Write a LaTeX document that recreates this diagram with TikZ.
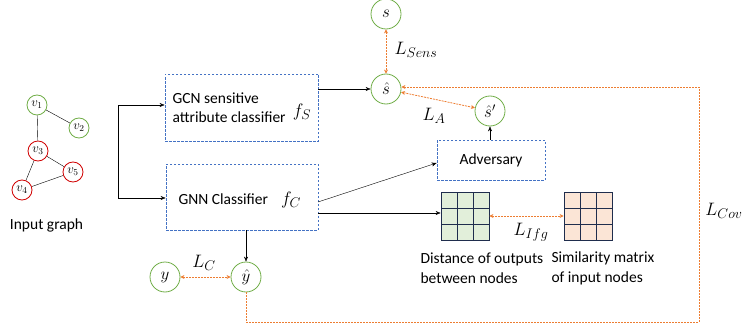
\documentclass[tikz,border=0pt]{standalone}
\usepackage{fix-cm}
\usepackage{fontspec}
\setmainfont{Carlito}
\DeclareMathSizes{18}{18}{14}{10}
\usetikzlibrary{arrows.meta}
\definecolor{cgreen}{HTML}{70AD47}
\definecolor{cred}{HTML}{D00000}
\definecolor{cblue}{HTML}{4472C4}
\definecolor{corange}{HTML}{ED7D31}
\definecolor{gfill}{HTML}{E2EFDA}
\definecolor{pfill}{HTML}{FBE5D6}
\definecolor{navy}{HTML}{1F2D4D}
\tikzset{
  gnode/.style={circle,draw=cgreen,thick,minimum size=20pt,inner sep=0pt,font=\fontsize{13}{14}\selectfont},
  rnode/.style={circle,draw=cred,thick,minimum size=20pt,inner sep=0pt,font=\fontsize{13}{14}\selectfont},
  onode/.style={circle,draw=cgreen,thick,minimum size=30pt,inner sep=0pt,font=\fontsize{17}{18}\selectfont},
  dbox/.style={draw=cblue,dash pattern=on 2.5pt off 1.5pt,thick,inner sep=0pt},
  blk/.style={-{Stealth[length=5pt,width=4pt]},black,thin},
  oline/.style={corange,dash pattern=on 2pt off 1pt,thick},
  oarr/.style={oline,{Stealth[length=4pt,width=4pt]}-{Stealth[length=4pt,width=4pt]}},
  mat/.style={draw=navy,thick,minimum size=48pt,inner sep=0pt},
  lbl/.style={font=\fontsize{18}{20}\selectfont},
  txt/.style={font=\fontsize{15.5}{19}\selectfont},
  captxt/.style={align=left,anchor=west,font=\fontsize{15.5}{20}\selectfont}
}
\begin{document}
\begin{tikzpicture}[x=1pt,y=-1pt]
\useasboundingbox (0,0) rectangle (742,329);
% input graph
\node[gnode] (v1) at (37,105) {$v_1$};
\node[gnode] (v2) at (79,128) {$v_2$};
\node[rnode] (v3) at (38,151) {$v_3$};
\node[rnode] (v4) at (22,190) {$v_4$};
\node[rnode] (v5) at (73,172) {$v_5$};
\draw (v1) -- (v2);
\draw (v1) -- (v3);
\draw (v3) -- (v5);
\draw (v3) -- (v4);
\draw (v4) -- (v5);
\node[txt] (ig) at (46.5,225) {Input graph};
% boxes
\node[dbox,minimum width=153pt,minimum height=67pt] (gcn) at (241.5,107.5) {};
\node[anchor=west,align=left,txt] (gcnt) at (169,108) {GCN sensitive\\attribute classifier};
\node[lbl] (fs) at (302,112) {$f_S$};
\node[dbox,minimum width=152pt,minimum height=66pt] (gnn) at (242,197) {};
\node[anchor=west,txt] (gnnt) at (175,199) {GNN Classifier};
\node[lbl] (fc) at (291,200) {$f_C$};
\coordinate (br1) at (118,105);
\coordinate (br2) at (118,198);
\draw[blk] (br1) -- (gcn.west |- br1);
\draw[blk] (br2) -- (gnn.west |- br2);
\draw (br1) -- (br2);
% outputs
\node[onode] (s) at (386,14) {$s$};
\node[onode] (sh) at (386,89) {$\hat{s}$};
\node[onode] (shp) at (490,111) {$\hat{s}'$};
\node[dbox,minimum width=108pt,minimum height=40pt,txt] (adv) at (491,160) {Adversary};
\draw[blk] (gcn.east |- sh) -- (sh);
\draw[blk] (adv.north -| shp) -- (shp);
\draw[oarr] (s) -- (sh);
\draw[oarr] (sh) -- (shp);
\node[lbl] (lsens) at (416,50) {$L_{Sens}$};
\node[lbl] (la) at (434,116) {$L_A$};
% matrices
\node[mat,fill=gfill] (ma) at (465,216) {};
\foreach \k in {457,473} {\draw[navy,thick] (\k,192) -- (\k,240);}
\foreach \k in {208,224} {\draw[navy,thick] (441,\k) -- (489,\k);}
\node[mat,fill=pfill] (mb) at (588,216) {};
\foreach \k in {580,596} {\draw[navy,thick] (\k,192) -- (\k,240);}
\foreach \k in {208,224} {\draw[navy,thick] (564,\k) -- (612,\k);}
\draw[oarr] (ma) -- (mb);
\node[lbl] (lifg) at (531,232) {$L_{Ifg}$};
\node[captxt] (capa) at (417,268) {Distance of outputs\\between nodes};
\node[captxt] (capb) at (548,268) {Similarity matrix\\of input nodes};
\coordinate (gnnA) at (318,202);
\coordinate (gnnB) at (318,213);
\draw[blk] (gnnA) -- (adv.west |- 0,163);
\draw[blk] (gnnB) -- (ma.west |- gnnB);
% y nodes
\node[onode] (y) at (165,277) {$y$};
\node[onode] (yh) at (246,277) {$\hat{y}$};
\draw[blk] (gnn.south -| yh) -- (yh);
\draw[oarr] (y) -- (yh);
\node[lbl] (lc) at (204,263) {$L_C$};
% covariance loop
\coordinate (c1) at (246,322);
\coordinate (c2) at (699,322);
\coordinate (c3) at (699,87);
\draw[oline,-{Stealth[length=4pt,width=4pt]}] (yh) -- (c1) -- (c2) -- (c3) -- (sh.east |- c3);
\node[lbl] (lcov) at (724,211) {$L_{Cov}$};
\end{tikzpicture}
\end{document}
